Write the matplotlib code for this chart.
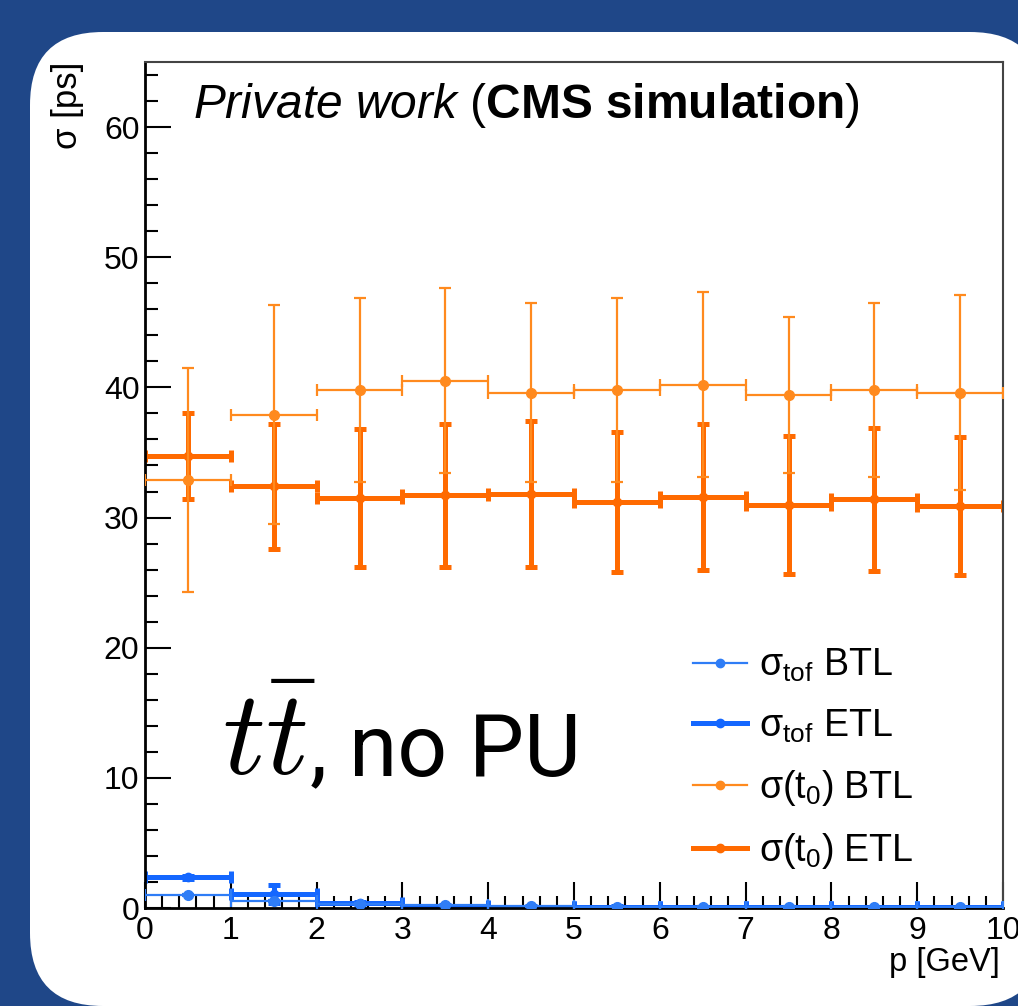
import matplotlib
matplotlib.use("Agg")
import matplotlib.pyplot as plt
from matplotlib.patches import FancyBboxPatch
from matplotlib.lines import Line2D
from matplotlib.ticker import MultipleLocator

# momentum bins (GeV): centre and half width
p_centres = [0.5, 1.5, 2.5, 3.5, 4.5, 5.5, 6.5, 7.5, 8.5, 9.5]
p_halfwidth = [0.5] * 10

# sigma_tof [ps]
tof_btl = [1.0, 0.55, 0.3, 0.2, 0.12, 0.1, 0.08, 0.07, 0.06, 0.05]
tof_btl_err = [0.1, 0.1, 0.08, 0.05, 0.05, 0.05, 0.05, 0.05, 0.05, 0.05]
tof_etl = [2.35, 1.05, 0.35, 0.15, 0.1, 0.08, 0.06, 0.05, 0.05, 0.05]
tof_etl_err = [0.1, 0.7, 0.1, 0.05, 0.05, 0.05, 0.05, 0.05, 0.05, 0.05]

# sigma(t0) [ps]
t0_btl = [32.9, 37.9, 39.8, 40.5, 39.6, 39.8, 40.2, 39.4, 39.8, 39.6]
t0_btl_err = [8.6, 8.4, 7.1, 7.1, 6.9, 7.1, 7.1, 6.0, 6.7, 7.5]
t0_etl = [34.7, 32.4, 31.5, 31.7, 31.8, 31.2, 31.6, 31.0, 31.4, 30.9]
t0_etl_err = [3.3, 4.8, 5.3, 5.5, 5.6, 5.4, 5.6, 5.3, 5.5, 5.3]

legend_labels = ["σ$_{\\rm tof}$ BTL", "σ$_{\\rm tof}$ ETL", "σ(t$_0$) BTL", "σ(t$_0$) ETL"]

BG = "#1f4788"
BLUE_THIN, BLUE_THICK = "#2f7df6", "#1467ff"
ORANGE_THIN, ORANGE_THICK = "#ff8a1e", "#ff6a00"

plt.rcParams["font.family"] = ["Liberation Sans", "DejaVu Sans"]
plt.rcParams["mathtext.fontset"] = "custom"
plt.rcParams["mathtext.rm"] = "Liberation Sans"
plt.rcParams["mathtext.it"] = "Liberation Sans:italic"
plt.rcParams["mathtext.bf"] = "Liberation Sans:bold"

W, H = 1018, 1006
fig = plt.figure(figsize=(W / 100, H / 100), dpi=100, facecolor=BG)

# white rounded panel, drawn in pixel coordinates
bg = fig.add_axes([0, 0, 1, 1])
bg.set_xlim(0, W); bg.set_ylim(H, 0); bg.axis("off")
bg.add_patch(FancyBboxPatch((30, 32), 1013, 974, boxstyle="round,pad=0,rounding_size=73",
                            facecolor="white", edgecolor="none"))

ax = fig.add_axes([145 / W, 1 - 908 / H, (1003 - 145) / W, (908 - 62) / H])
ax.set_xlim(0, 10)
ax.set_ylim(0, 65)


def draw(y, yerr, color, lw, cap, ms, z):
    ax.errorbar(p_centres, y, xerr=p_halfwidth, yerr=yerr, fmt="o", color=color,
                ms=ms, elinewidth=lw, capsize=cap, capthick=lw, zorder=z)


draw(t0_etl, t0_etl_err, ORANGE_THICK, 3.6, 4, 6, 2)
draw(t0_btl, t0_btl_err, ORANGE_THIN, 1.6, 4, 7, 3)
draw(tof_etl, tof_etl_err, BLUE_THICK, 3.6, 4, 6, 2)
draw(tof_btl, tof_btl_err, BLUE_THIN, 1.6, 4, 7, 3)

ax.xaxis.set_major_locator(MultipleLocator(1))
ax.xaxis.set_minor_locator(MultipleLocator(0.2))
ax.yaxis.set_major_locator(MultipleLocator(10))
ax.yaxis.set_minor_locator(MultipleLocator(2))
ax.tick_params(which="both", direction="in", top=False, right=False, width=1.5)
ax.tick_params(which="major", length=19, labelsize=23)
ax.tick_params(which="minor", length=9)
ax.tick_params(axis="y", pad=4)
ax.tick_params(axis="x", pad=6)
for side in ["left", "bottom"]:
    ax.spines[side].set_linewidth(2)
for side in ["top", "right"]:
    ax.spines[side].set_linewidth(1.5)
    ax.spines[side].set_color("#444444")

handles = [
    Line2D([], [], color=BLUE_THIN, lw=1.6, marker="o", ms=6),
    Line2D([], [], color=BLUE_THICK, lw=3.6, marker="o", ms=6),
    Line2D([], [], color=ORANGE_THIN, lw=1.6, marker="o", ms=6),
    Line2D([], [], color=ORANGE_THICK, lw=3.6, marker="o", ms=6),
]
ax.legend(handles, legend_labels, loc="upper left",
          bbox_to_anchor=(693 / W, 1 - 647 / H), bbox_transform=fig.transFigure,
          frameon=False, fontsize=27, handlelength=1.45, handletextpad=0.3,
          labelspacing=0.62, borderpad=0, borderaxespad=0)

fig.text(193 / W, 1 - 105 / H, r"$\it{Private\ work}$ ($\bf{CMS\ simulation}$)",
         fontsize=34.5, va="center", ha="left")
fig.text(222 / W, 1 - 775 / H, r"$t\bar{t}$", fontsize=86, math_fontfamily="cm",
         ha="left", va="baseline")
fig.text(310 / W, 1 - 775 / H, ", no PU", fontsize=63, family="Roboto",
         ha="left", va="baseline")

fig.text(68 / W, 1 - 62 / H, "σ [ps]", rotation=90, fontsize=25, ha="center", va="top")
fig.text(1000 / W, 1 - 963 / H, "p [GeV]", fontsize=23.5, ha="right", va="center")

fig.savefig("out.png", dpi=100, facecolor=BG)
